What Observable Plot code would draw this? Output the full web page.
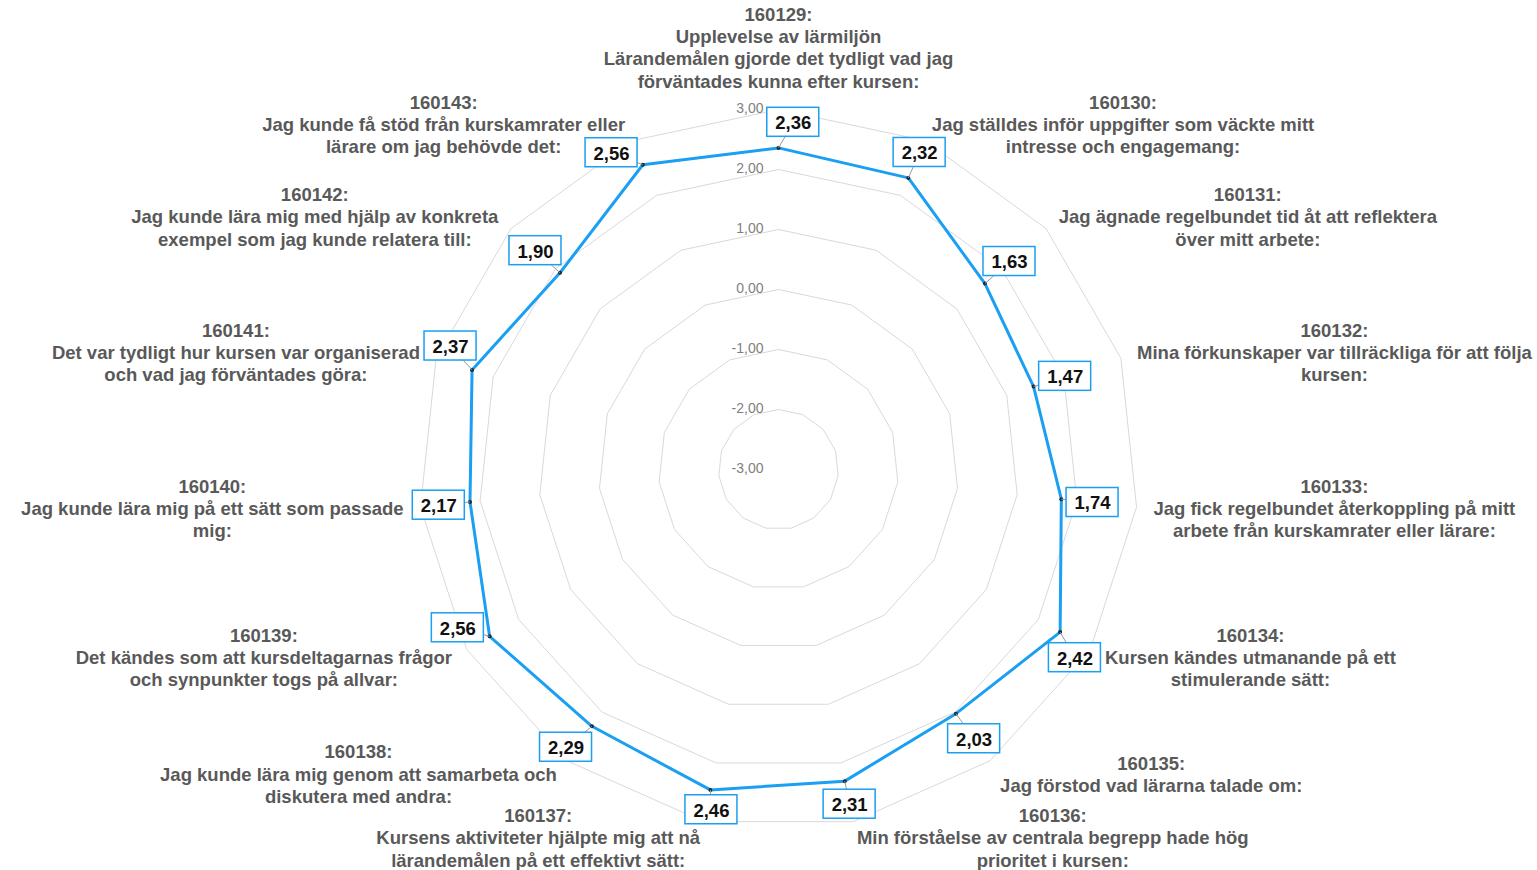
<!DOCTYPE html>
<html>
<head>
<meta charset="utf-8">
<script src="https://cdn.jsdelivr.net/npm/d3@7"></script>
<script src="https://cdn.jsdelivr.net/npm/@observablehq/plot@0.6"></script>
<style>
  html, body { margin: 0; padding: 0; background: #fff; }
  svg { display: block; }
</style>
</head>
<body>
<div id="chart"></div>
<script>
// ---------- data ----------
const categories = ["160129","160130","160131","160132","160133","160134","160135","160136",
                    "160137","160138","160139","160140","160141","160142","160143"];
const questions = [
  "Upplevelse av lärmiljön\nLärandemålen gjorde det tydligt vad jag\nförväntades kunna efter kursen:",
  "Jag ställdes inför uppgifter som väckte mitt\nintresse och engagemang:",
  "Jag ägnade regelbundet tid åt att reflektera\növer mitt arbete:",
  "Mina förkunskaper var tillräckliga för att följa\nkursen:",
  "Jag fick regelbundet återkoppling på mitt\narbete från kurskamrater eller lärare:",
  "Kursen kändes utmanande på ett\nstimulerande sätt:",
  "Jag förstod vad lärarna talade om:",
  "Min förståelse av centrala begrepp hade hög\nprioritet i kursen:",
  "Kursens aktiviteter hjälpte mig att nå\nlärandemålen på ett effektivt sätt:",
  "Jag kunde lära mig genom att samarbeta och\ndiskutera med andra:",
  "Det kändes som att kursdeltagarnas frågor\noch synpunkter togs på allvar:",
  "Jag kunde lära mig på ett sätt som passade\nmig:",
  "Det var tydligt hur kursen var organiserad\noch vad jag förväntades göra:",
  "Jag kunde lära mig med hjälp av konkreta\nexempel som jag kunde relatera till:",
  "Jag kunde få stöd från kurskamrater eller\nlärare om jag behövde det:"
];
const values = [2.36, 2.32, 1.63, 1.47, 1.74, 2.42, 2.03, 2.31, 2.46, 2.29, 2.56, 2.17, 2.37, 1.90, 2.56];
const ticks = [-3, -2, -1, 0, 1, 2, 3];
const tickLabels = ["-3,00", "-2,00", "-1,00", "0,00", "1,00", "2,00", "3,00"];

// ---------- layout ----------
const W = 1537, H = 870, CX = 778, CY = 469, UNIT = 60;
const FONT = "'Liberation Sans', Arial, Helvetica, sans-serif";
const n = categories.length;
const rad = v => v - ticks[0];
const ang = i => i * 2 * Math.PI / n;
const px = (i, r) => r * Math.sin(ang(i));
const py = (i, r) => r * Math.cos(ang(i));
const toPX = x => CX + x * UNIT, toPY = y => CY - y * UNIT;
const fromPX = X => (X - CX) / UNIT, fromPY = Y => (CY - Y) / UNIT;

const ctx = document.createElement("canvas").getContext("2d");
const lineW = (t, font) => { ctx.font = font; return ctx.measureText(t).width; };
const measure = (t, font) => Math.max(...t.split("\n").map(s => lineW(s, font)));

// grid rings
const grid = ticks.slice(1).flatMap(t => d3.range(n + 1).map(k => ({t, x: px(k % n, rad(t)), y: py(k % n, rad(t))})));
// series
const series = d3.range(n + 1).map(k => ({x: px(k % n, rad(values[k % n])), y: py(k % n, rad(values[k % n]))}));
const pts = values.map((v, i) => ({i, v, x: px(i, rad(v)), y: py(i, rad(v))}));

// tick labels
const TFS = 14, TFONT = `${TFS}px ${FONT}`, TDX = -15, TDY = -1;

// category labels
const CFS = 18.5, CFONT = `bold ${CFS}px ${FONT}`, LH = 1.2;
const TOPDY = -5, SIDEDY = -1;
const labelR = rad(ticks[ticks.length - 1]) + 17 / UNIT;
const clabels = categories.map((c, i) => {
  const text = `${c}:\n${questions[i]}`;
  const w = measure(text, CFONT);
  const s = Math.sin(ang(i));
  const ax = px(i, labelR), ay = py(i, labelR);
  const top = Math.abs(s) < 1e-6;
  return {text, top, x: top ? ax : ax + Math.sign(s) * w / 2 / UNIT, y: ay};
});

// obstacles for value-label placement (pixel space)
const obstacles = [];
clabels.forEach(c => {
  const lines = c.text.split("\n"), k = lines.length, lh = CFS * LH;
  const bx = toPX(c.x), by = toPY(c.y) + (c.top ? TOPDY : SIDEDY);
  lines.forEach((ln, j) => {
    const cy = c.top ? by - (k - 1 - j) * lh - 0.35 * CFS : by + (j - (k - 1) / 2) * lh;
    const w = lineW(ln, CFONT);
    obstacles.push({x1: bx - w / 2, x2: bx + w / 2, y1: cy - CFS * 0.5, y2: cy + CFS * 0.5});
  });
});
ticks.forEach((t, i) => {
  const w = lineW(tickLabels[i], TFONT), yy = toPY(rad(t)) + TDY;
  obstacles.push({x1: CX + TDX - w, x2: CX + TDX, y1: yy - TFS / 2, y2: yy + TFS / 2});
});
const P = pts.map(p => ({X: toPX(p.x), Y: toPY(p.y)}));
const segs = d3.range(n).map(k => [P[k], P[(k + 1) % n]]);
const PAD = 2;
const rectHit = (a, b) => a.x1 < b.x2 + PAD && a.x2 > b.x1 - PAD && a.y1 < b.y2 + PAD && a.y2 > b.y1 - PAD;
function segHit([p, q], r0) {
  const r = {x1: r0.x1 - 1, x2: r0.x2 + 1, y1: r0.y1 - 1, y2: r0.y2 + 1};
  let t0 = 0, t1 = 1;
  const dx = q.X - p.X, dy = q.Y - p.Y;
  const cks = [[-dx, p.X - r.x1], [dx, r.x2 - p.X], [-dy, p.Y - r.y1], [dy, r.y2 - p.Y]];
  for (const [pp, qq] of cks) {
    if (pp === 0) { if (qq < 0) return false; }
    else {
      const t = qq / pp;
      if (pp < 0) { if (t > t1) return false; if (t > t0) t0 = t; }
      else { if (t < t0) return false; if (t < t1) t1 = t; }
    }
  }
  return true;
}

// value labels with simple best-fit placement
const VFS = 18.5, VFONT = `bold ${VFS}px ${FONT}`;
const boxH = 29, padX = 8;
const devs = [0]; for (let a = 15; a <= 120; a += 15) devs.push(-a, a);
const gaps = [4, 10, 16, 24, 32, 40];
const placed = [];
const vlabels = pts.map((p, i) => {
  const text = d3.format(".2f")(p.v).replace(".", ",");
  const w = lineW(text, VFONT) + 2 * padX;
  let best = null;
  for (const dev of devs) for (const gap of gaps) {
    const cost = Math.abs(dev) + 1.5 * gap;
    if (best && cost >= best.cost) continue;
    const th = ang(i) + dev * Math.PI / 180;
    const ux = Math.sin(th), uy = -Math.cos(th);
    const d = gap + Math.abs(ux) * w / 2 + Math.abs(uy) * boxH / 2;
    const X = P[i].X + ux * d, Y = P[i].Y + uy * d;
    const r = {x1: X - w / 2, x2: X + w / 2, y1: Y - boxH / 2, y2: Y + boxH / 2};
    if (r.x1 < 0 || r.x2 > W || r.y1 < 0 || r.y2 > H) continue;
    if (obstacles.some(o => rectHit(r, o))) continue;
    if (placed.some(o => rectHit(r, o))) continue;
    if (segs.some(s => segHit(s, r))) continue;
    best = {cost, X, Y, r};
  }
  if (!best) {
    const ux = Math.sin(ang(i)), uy = -Math.cos(ang(i));
    const d = 5 + Math.abs(ux) * w / 2 + Math.abs(uy) * boxH / 2;
    const X = P[i].X + ux * d, Y = P[i].Y + uy * d;
    best = {X, Y, r: {x1: X - w / 2, x2: X + w / 2, y1: Y - boxH / 2, y2: Y + boxH / 2}};
  }
  placed.push(best.r);
  return {text, x: fromPX(best.X), y: fromPY(best.Y),
          x1: fromPX(best.r.x1), x2: fromPX(best.r.x2),
          y1: fromPY(best.r.y2), y2: fromPY(best.r.y1),
          px: p.x, py: p.y};
});

const chart = Plot.plot({
  width: W, height: H, margin: 0,
  x: {domain: [-CX / UNIT, (W - CX) / UNIT], axis: null},
  y: {domain: [-(H - CY) / UNIT, CY / UNIT], axis: null},
  style: {fontFamily: FONT, background: "white"},
  marks: [
    Plot.line(grid, {x: "x", y: "y", z: "t", stroke: "#d9d9d9", strokeWidth: 1}),
    Plot.text(ticks, {x: () => 0, y: t => rad(t), text: (t, i) => tickLabels[i],
      textAnchor: "end", dx: TDX, dy: TDY, fontSize: TFS, fill: "#7f7f7f"}),
    Plot.line(series, {x: "x", y: "y", stroke: "#1a9ff2", strokeWidth: 3}),
    Plot.dot(pts, {x: "x", y: "y", r: 2, fill: "#1d2a33"}),
    Plot.link(vlabels, {x1: "px", y1: "py", x2: "x", y2: "y", stroke: "#9a9a9a", strokeWidth: 1}),
    Plot.rect(vlabels, {x1: "x1", x2: "x2", y1: "y1", y2: "y2", fill: "white", stroke: "#1a9ff2", strokeWidth: 1.5}),
    Plot.text(vlabels, {x: "x", y: "y", text: "text", fontSize: VFS, fontWeight: "bold", fill: "#111", dy: 1}),
    Plot.text(clabels.filter(d => !d.top), {x: "x", y: "y", text: "text", fontSize: CFS, fontWeight: "bold",
      fill: "#595959", lineAnchor: "middle", lineHeight: LH, dy: SIDEDY}),
    Plot.text(clabels.filter(d => d.top), {x: "x", y: "y", text: "text", fontSize: CFS, fontWeight: "bold",
      fill: "#595959", lineAnchor: "bottom", lineHeight: LH, dy: TOPDY})
  ]
});
document.getElementById("chart").appendChild(chart);
</script>
</body>
</html>
